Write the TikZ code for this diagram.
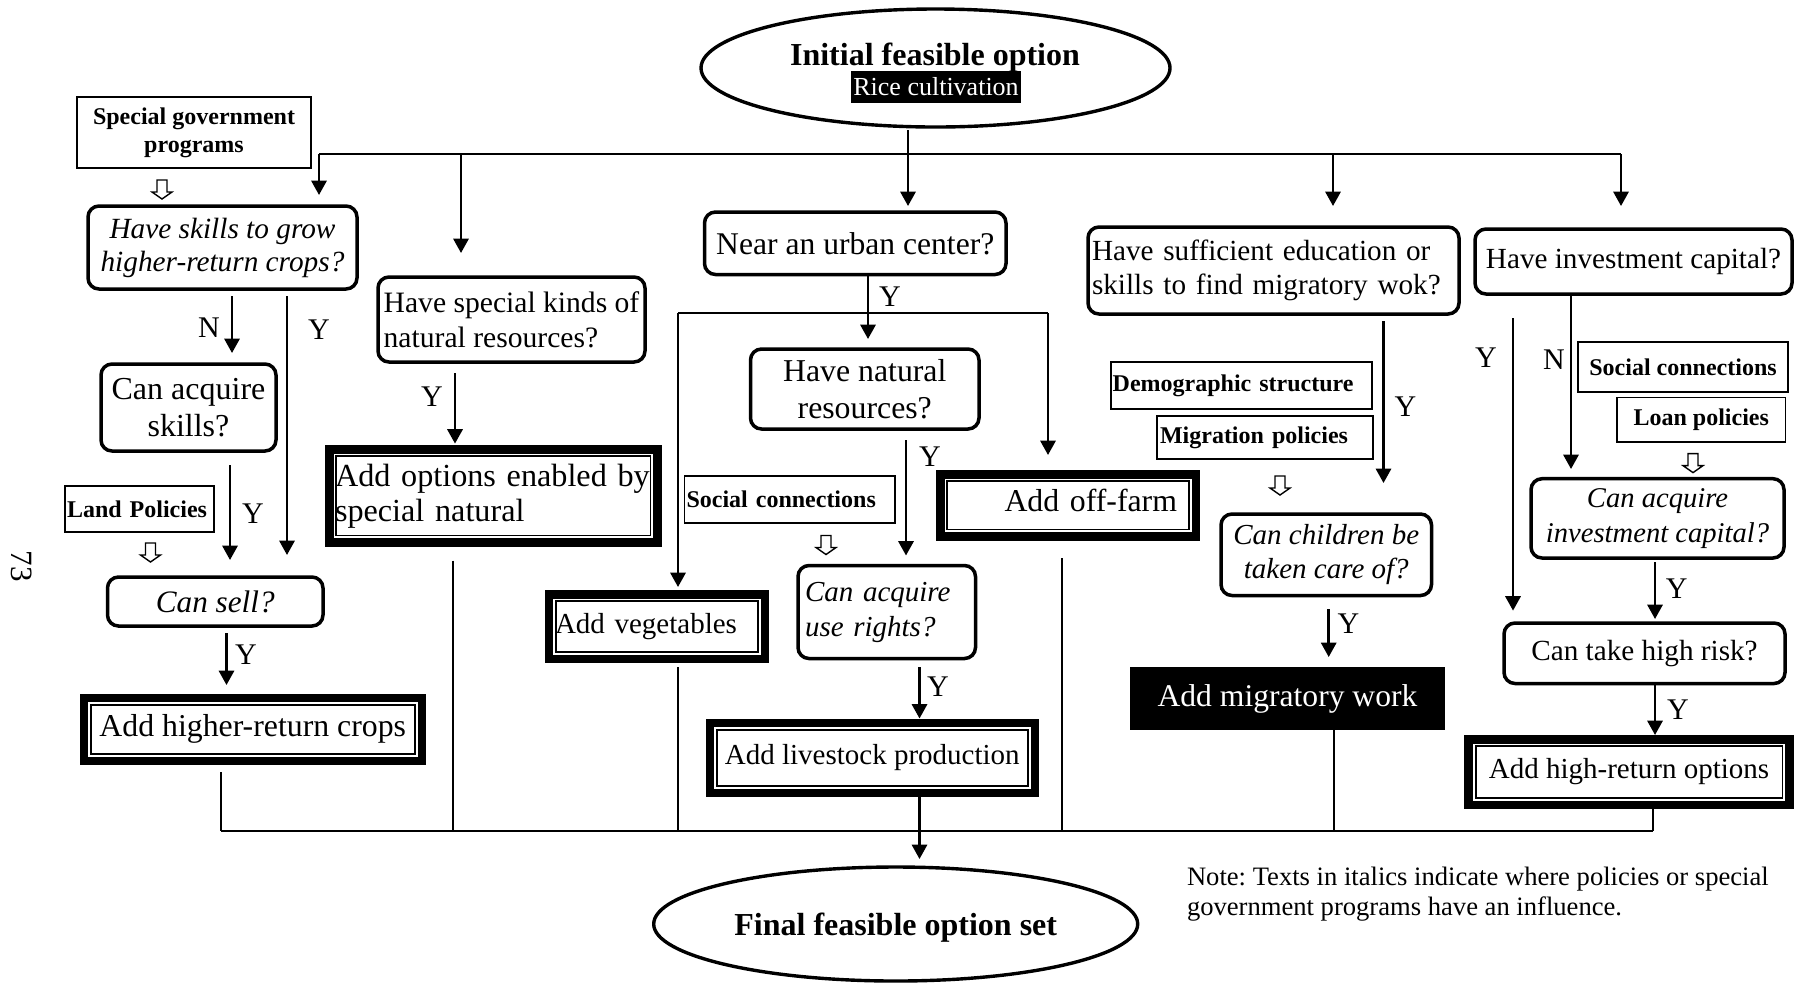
\documentclass[tikz,border=0pt]{standalone}
\usepackage{fontspec}
\setmainfont{Liberation Serif}
\usetikzlibrary{arrows.meta,shapes.geometric}
\frenchspacing
\newcommand\fsz[2]{\fontsize{#1pt}{#2pt}\selectfont}
\newcommand\dblframe[1]{%
  \draw[line width=4.25pt] ([shift={(4.25,4.25)}]#1.north west) rectangle ([shift={(-4.25,-4.25)}]#1.south east);
  \draw[line width=0.9pt] ([shift={(11.2,11.2)}]#1.north west) rectangle ([shift={(-11.2,-11.2)}]#1.south east);}
\newcommand\hollowdown[2]{%
  \draw[line width=0.7pt, line join=miter] (#1,#2) ++(-5,0) -- ++(10,0) -- ++(0,12) -- ++(5,0) -- ++(-10,7) -- ++(-10,-7) -- ++(5,0) -- cycle;}
\begin{document}
\begin{tikzpicture}[x=0.5pt,y=-0.5pt,
  every node/.style={inner sep=0pt, outer sep=0pt},
  rbox/.style={draw, rounded corners=5.5pt, line width=1.75pt},
  pbox/.style={draw, line width=0.9pt, font=\fsz{12}{14}\bfseries},
  lbl/.style={font=\fsz{15}{17}},
  arr/.style={line width=1.3pt, -{Triangle[length=7.2pt,width=7.6pt]}},
  busln/.style={line width=1.2pt},
  thinln/.style={line width=1pt},
  ell/.style={draw, ellipse, line width=1.7pt}]
\useasboundingbox (0,0) rectangle (1797,982);

% ellipses
\node[ell, minimum width=234.5pt, minimum height=59pt] (start) at (935.5,68) {};
\node[font=\fsz{16}{18}\bfseries, anchor=base] (starttitle) at (935,65) {Initial feasible option};
\node[fill=black, text=white, font=\fsz{13}{15}, minimum width=85pt, minimum height=16pt] (rice) at (936,87) {Rice cultivation};
\node[ell, minimum width=242pt, minimum height=57pt, font=\fsz{16}{18}\bfseries, text depth=0pt] (final) at (895.7,924) {Final feasible option set};

% policy boxes
\node[pbox, minimum width=117pt, minimum height=35.5pt, align=center] (specgov) at (194,132.5) {Special government\\programs};
\node[pbox, minimum width=74.5pt, minimum height=23pt, text width=72.5pt, align=left] (landpol) at (139.5,509) {Land Policies};
\node[pbox, minimum width=105.25pt, minimum height=23.5pt, text width=103.25pt, align=left] (soc1) at (789.75,499.5) {Social connections};
\node[pbox, minimum width=130.5pt, minimum height=23.65pt, text width=128.5pt, align=left] (demog) at (1241.2,385.35) {Demographic structure};
\node[pbox, minimum width=107.85pt, minimum height=21.65pt, text width=104.85pt, align=left] (migpol) at (1264.85,437.35) {Migration policies};
\node[pbox, minimum width=105pt, minimum height=25pt] (soc2) at (1683,367) {Social connections};
\node[pbox, minimum width=84.25pt, minimum height=22.25pt] (loan) at (1701.25,419.75) {Loan policies};

% question boxes
\node[rbox, font=\fsz{14.65}{16.5}\itshape, align=center, minimum width=134.5pt, minimum height=41.5pt] (skills) at (222.5,247.5) {Have skills to grow\\higher-return crops?};
\node[rbox, font=\fsz{16}{18.5}, align=center, minimum width=87.5pt, minimum height=43.5pt] (acqskills) at (188.5,407.5) {Can acquire\\skills?};
\node[rbox, font=\fsz{15.6}{17}\itshape, minimum width=107.75pt, minimum height=24.5pt] (cansell) at (215.25,601.5) {Can sell?};
\node[rbox, font=\fsz{14.8}{17.5}, align=left, minimum width=133.5pt, minimum height=42.5pt] (special) at (511.5,319.5) {Have special kinds of\\natural resources?};
\node[rbox, font=\fsz{15.8}{17}, minimum width=150.75pt, minimum height=31.25pt] (urban) at (855.25,243.25) {Near an urban center?};
\node[rbox, font=\fsz{15.9}{18.5}, align=center, minimum width=114.25pt, minimum height=40pt] (natres) at (864.75,389) {Have natural\\resources?};
\node[rbox, font=\fsz{14.5}{17.5}\itshape, align=left, text width=81.75pt, inner xsep=3.5pt, minimum width=88.75pt, minimum height=46.5pt] (userights) at (886.75,612) {Can acquire\\use rights?};
\node[rbox, font=\fsz{14.6}{17}, align=left, text width=181.5pt, inner xsep=2pt, minimum width=185.5pt, minimum height=43.5pt] (edu) at (1273.5,270.5) {Have sufficient education or\\skills to find migratory wok?};
\node[rbox, font=\fsz{14.5}{16.75}\itshape, align=center, minimum width=105.25pt, minimum height=40.75pt] (children) at (1326.25,554.75) {Can children be\\taken care of?};
\node[rbox, font=\fsz{14.6}{17}, minimum width=158.5pt, minimum height=32.5pt] (invest) at (1633.5,261.5) {Have investment capital?};
\node[rbox, font=\fsz{14.3}{17.5}\itshape, align=center, minimum width=126.5pt, minimum height=39.65pt] (acqinvest) at (1657.5,518.35) {Can acquire\\investment capital?};
\node[rbox, font=\fsz{14.6}{17}, minimum width=140.5pt, minimum height=30.25pt] (risk) at (1644.5,653.25) {Can take high risk?};

% result boxes
\node[font=\fsz{15.9}{17}, minimum width=173.25pt, minimum height=35.75pt] (crops) at (252.75,729.25) {Add higher-return crops};
\node[font=\fsz{16.1}{17.5}, align=left, text width=158.35pt, inner xsep=5pt, minimum width=168.35pt, minimum height=50.85pt] (options) at (493.35,495.85) {Add options enabled by\\special natural};
\node[font=\fsz{14.5}{17}, align=left, text width=101.75pt, inner xsep=5.25pt, minimum width=112.25pt, minimum height=36.5pt] (veg) at (656.75,626.5) {Add vegetables};
\node[font=\fsz{14.5}{17}, minimum width=166.7pt, minimum height=39.25pt] (livestock) at (872.3,757.75) {Add livestock production};
\node[font=\fsz{15.9}{17}, align=right, text width=109pt, inner xsep=11.5pt, text depth=5pt, minimum width=132pt, minimum height=35.35pt] (offfarm) at (1068,505.35) {Add off-farm};
\node[font=\fsz{14.5}{17}, minimum width=164.6pt, minimum height=37pt] (highret) at (1629,772) {Add high-return options};
\node[fill=black, text=white, font=\fsz{15.8}{17}, minimum width=157.5pt, minimum height=31.5pt] (migr) at (1287.5,698.5) {Add migratory work};
\dblframe{crops}
\dblframe{options}
\dblframe{veg}
\dblframe{livestock}
\dblframe{offfarm}
\dblframe{highret}

% hollow arrows
\hollowdown{162}{180}
\hollowdown{150.5}{543}
\hollowdown{826}{535.5}
\hollowdown{1280}{476}
\hollowdown{1693}{453.6}

% labels
\node[lbl] (lN1) at (209,328) {N};
\node[lbl] (lY1) at (319,330) {Y};
\node[lbl] (lY2) at (253,514) {Y};
\node[lbl] (lY3) at (246,655) {Y};
\node[lbl] (lY4) at (432,397) {Y};
\node[lbl] (lY5) at (890,297) {Y};
\node[lbl] (lY6) at (930,457) {Y};
\node[lbl] (lY7) at (938,687) {Y};
\node[lbl] (lY8) at (1405.5,407) {Y};
\node[lbl] (lY9) at (1348.5,624) {Y};
\node[lbl] (lN2) at (1554,360) {N};
\node[lbl] (lY10) at (1486,358) {Y};
\node[lbl] (lY11) at (1676.6,589) {Y};
\node[lbl] (lY12) at (1678,710) {Y};

% top distribution
\coordinate (hub) at (908,154);
\coordinate (busL) at (319,154);
\coordinate (busR) at (1621,154);
\draw[busln] (busL) -- (busR);
\draw[arr, shorten <=1.7pt, shorten >=3pt] (hub |- start.south) -- (hub |- urban.north);
\draw[arr, shorten >=5.5pt] (busL) -- (busL |- skills.north);
\draw[arr, shorten >=12pt] (461,154) -- (461,0 |- special.north);
\draw[arr, shorten >=10.5pt] (1333,154) -- (1333,0 |- edu.north);
\draw[arr, shorten >=11.5pt] (busR) -- (busR |- invest.north);

% left column
\draw[arr, shorten <=3.5pt, shorten >=5.5pt] (232,0 |- skills.south) -- (232,0 |- acqskills.north);
\draw[arr, shorten <=3.5pt, shorten >=11pt] (287,0 |- skills.south) -- (287,0 |- cansell.north);
\draw[arr, shorten <=7pt, shorten >=8.5pt] (230,0 |- acqskills.south) -- (230,0 |- cansell.north);
\draw[arr, shorten <=3.5pt, shorten >=4.25pt] (226.5,0 |- cansell.south) -- (226.5,0 |- crops.north);
\draw[arr, shorten <=5.5pt, shorten >=0.7pt] (455,0 |- special.south) -- (455,0 |- options.north);

% urban column
\draw[arr, shorten >=5pt] (868,0 |- urban.south) -- (868,0 |- natres.north);
\coordinate (brL) at (678,313);
\coordinate (brR) at (1048,313);
\draw[thinln] (brL) -- (brR);
\draw[arr, shorten >=1.5pt] (brL) -- (brL |- veg.north);
\draw[arr, shorten >=7.5pt] (brR) -- (brR |- offfarm.north);
\draw[arr, shorten <=5.5pt, shorten >=5pt] (906,0 |- natres.south) -- (906,0 |- userights.north);
\draw[arr, shorten <=4.3pt] (919.5,0 |- userights.south) -- (919.5,0 |- livestock.north);

% migration column
\draw[arr, shorten <=3.5pt, shorten >=15.5pt] (1383.5,0 |- edu.south) -- (1383.5,0 |- children.north);
\draw[arr, shorten <=6.75pt, shorten >=5pt] (1328.7,0 |- children.south) -- (1328.7,0 |- migr.north);

% investment column
\draw[arr, shorten >=4.85pt] (1571,0 |- invest.south) -- (1571,0 |- acqinvest.north);
\draw[arr, shorten <=12pt, shorten >=6.2pt] (1513,0 |- invest.south) -- (1513,0 |- risk.north);
\draw[arr, shorten <=2pt, shorten >=2pt] (1655,0 |- acqinvest.south) -- (1655,0 |- risk.north);
\draw[arr] (1655,0 |- risk.south) -- (1655,0 |- highret.north);

% collecting lines
\coordinate (bbL) at (221,831);
\coordinate (bbR) at (1652.5,831);
\draw[thinln] (bbL) -- (bbR);
\draw[thinln, shorten <=3.5pt] (bbL |- crops.south) -- (bbL);
\draw[thinln, shorten <=6.9pt] (453,0 |- options.south) -- (453,0 |- bbL);
\draw[thinln, shorten <=2pt] (678,0 |- veg.south) -- (678,0 |- bbL);
\draw[thinln, shorten <=8.65pt] (1062,0 |- offfarm.south) -- (1062,0 |- bbL);
\draw[thinln] (1333.6,0 |- migr.south) -- (1333.6,0 |- bbL);
\draw[thinln] (bbR |- highret.south) -- (bbR);
\draw[arr, shorten >=4pt] (919.5,0 |- livestock.south) -- (919.5,0 |- final.north);

% note and page number
\node[font=\fsz{13.3}{15}, align=left, anchor=north west] (note) at (1187,867) {Note: Texts in italics indicate where policies or special\\government programs have an influence.};
\node[font=\fsz{15.5}{17}, rotate=-90] (pagenum) at (22,566) {73};
\end{tikzpicture}
\end{document}
